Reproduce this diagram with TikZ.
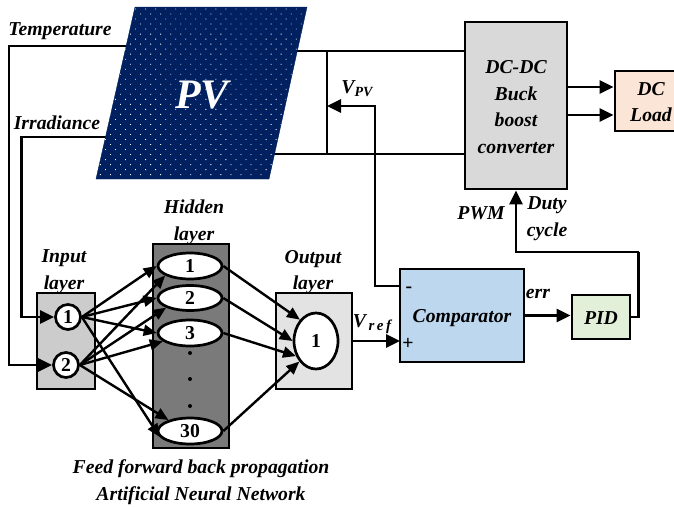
\documentclass[tikz,border=0pt]{standalone}
\usepackage{fontspec}
\setmainfont{Liberation Serif}
\usetikzlibrary{arrows.meta,calc,patterns.meta,shapes.geometric}
\definecolor{panelblue}{HTML}{002060}
\definecolor{convgray}{HTML}{D9D9D9}
\definecolor{loadpeach}{HTML}{FBE5D6}
\definecolor{cmpblue}{HTML}{BDD7EE}
\definecolor{pidgreen}{HTML}{E2F0D9}
\tikzset{
	wire/.style={line width=2.7pt},
	arrowwire/.style={wire, -{Triangle[length=14pt, width=13pt]}},
	netarrow/.style={line width=2.4pt, -{Triangle[length=13pt, width=11pt]}},
	lbl/.style={inner sep=0pt, align=center, font=\fontsize{19.7}{26.7}\selectfont\bfseries\itshape},
	block/.style={draw, line width=2.7pt, inner sep=0pt},
	layerbox/.style={draw, line width=2.7pt, inner sep=0pt},
	neuron/.style={draw, ellipse, fill=white, line width=2.7pt, inner sep=0pt, font=\fontsize{19.7}{22}\selectfont\bfseries},
	netdot/.style={circle, fill=black, inner sep=0pt, minimum size=4pt}
}

\begin{document}
\begin{tikzpicture}[x=1pt, y=-1pt]
		%%%%% START %%%%%
		\clip (0, 0) rectangle (674, 506);
		\fill[white] (0, 0) rectangle (674, 506);
		
		% named points on the panel and the wire corners
		\coordinate (pvtemp) at (127, 46);
		\coordinate (pvirr) at (106, 137);
		\coordinate (pvtop) at (296, 51);
		\coordinate (pvbot) at (274, 154);
		\coordinate (tempcorner) at (9, 46);
		\coordinate (irrcorner) at (21.5, 137);
		\coordinate (tapup) at (327, 51);
		\coordinate (tapdown) at (327, 154);
		\coordinate (tapmid) at (327, 106);
		\coordinate (vpvcorner) at (375, 106);
		\coordinate (cmpminus) at (400, 286);
		\coordinate (cmpplus) at (400, 341);
		\coordinate (pidout) at (640, 317);
		\coordinate (pidup) at (638.5, 252);
		\coordinate (dutycorner) at (516, 252);
		
		% blocks
		\node[block, fill=convgray, minimum width=102, minimum height=167] (conv) at (516, 105.5) {};
		\node[lbl] (convtext) at (516, 107) {DC-DC\\Buck\\boost\\converter};
		\node[block, fill=loadpeach, minimum width=72, minimum height=60] (load) at (651, 101) {};
		\node[lbl] (loadtext) at (651, 102) {DC\\Load};
		\node[block, fill=cmpblue, minimum width=124, minimum height=93] (cmp) at (462, 315.5) {};
		\node[lbl] (cmptext) at (462, 318) {Comparator};
		\node[block, fill=pidgreen, minimum width=58, minimum height=44] (pid) at (601, 317) {};
		\node[lbl] (pidtext) at (601, 318) {PID};
		
		% neural network
		\node[layerbox, fill=black!20, minimum width=58, minimum height=96] (inbox) at (66, 341) {};
		\node[layerbox, fill=black!52, minimum width=76, minimum height=204] (hidbox) at (191, 346) {};
		\node[layerbox, fill=black!11, minimum width=76, minimum height=96] (outbox) at (314, 341) {};
		
		\node[neuron, circle, minimum size=25] (in1) at (68, 317) {1};
		\node[neuron, circle, minimum size=25] (in2) at (66, 365) {2};
		\node[neuron, minimum width=64, minimum height=26] (h1) at (190, 266) {1};
		\node[neuron, minimum width=64, minimum height=25] (h2) at (190, 298) {2};
		\node[neuron, minimum width=64, minimum height=26] (h3) at (190, 333) {3};
		\node[neuron, minimum width=64, minimum height=26] (h30) at (190, 431) {30};
		\node[neuron, minimum width=44, minimum height=56] (o1) at (316, 341) {1};
		\node[netdot] (dot1) at (190, 353) {};
		\node[netdot] (dot2) at (190, 379) {};
		\node[netdot] (dot3) at (190, 406) {};
		
		\draw[netarrow] (in1.east) -- (h1.west);
		\draw[netarrow] (in1.east) -- (h2.west);
		\draw[netarrow] (in1.east) -- (h3.west);
		\draw[netarrow] (in1.east) -- (h30.191);
		\draw[netarrow] (in2.east) -- (h1.201);
		\draw[netarrow] (in2.east) -- (h2.202);
		\draw[netarrow] (in2.east) -- (h3.197);
		\draw[netarrow] (in2.east) -- (h30.153);
		\draw[netarrow] (h1.east) -- (o1.127);
		\draw[netarrow] (h2.east) -- (o1.west);
		\draw[netarrow] (h3.east) -- (o1.217);
		\draw[netarrow] (h30.east) -- (o1.231);
		
		% wires
		\draw[arrowwire] (pvtemp) -- (tempcorner) |- (in2.west);
		\draw[arrowwire] (pvirr) -- (irrcorner) |- (in1.west);
		\draw[wire] (pvtop) -- (conv.west |- pvtop);
		\draw[wire] (pvbot) -- (conv.west |- pvbot);
		\draw[wire] (tapup) -- (tapdown);
		\draw[arrowwire] (cmpminus) -| (vpvcorner) -- (tapmid);
		\draw[arrowwire] (outbox.east) -- (cmpplus);
		\draw[arrowwire] (cmp.east) -- (cmp.east -| pid.west);
		\draw[wire] (pid.east) -- (pidout);
		\draw[wire] (pidout -| pidup) -- (pidup);
		\draw[arrowwire] (pidup) -- (dutycorner) -- (dutycorner |- conv.south);
		\draw[arrowwire] (conv.east |- 0, 87) -- (load.west |- 0, 87);
		\draw[arrowwire] (conv.east |- 0, 115) -- (load.west |- 0, 115);
		
		% panel
		\draw[fill=panelblue, draw=panelblue] (135, 7) -- (307, 7) -- (269, 179) -- (96, 179) -- cycle;
		\fill[pattern={Dots[distance=7.1pt, angle=45, radius=0.6pt]}, pattern color=white] (135, 7) -- (307, 7) -- (269, 179) -- (96, 179) -- cycle;
		\node[lbl, text=white, font=\fontsize{42}{44}\selectfont\bfseries\itshape] (pvtext) at (202, 95) {PV};
		
		% labels
		\node[lbl] (templabel) at (60, 31) {Temperature};
		\node[lbl] (irrlabel) at (57, 123) {Irradiance};
		\node[lbl] (hidlabel) at (194, 222) {Hidden\\layer};
		\node[lbl] (inlabel) at (64, 272) {Input\\layer};
		\node[lbl] (outlabel) at (313, 272) {Output\\layer};
		\node[lbl] (annlabel) at (201, 482.5) {Feed forward back propagation\\Artificial Neural Network};
		\node[lbl] (vpvlabel) at (357, 89) {V\raisebox{-3pt}{\fontsize{14}{14}\selectfont PV}};
		\node[lbl] (vreflabel) at (372, 324) {V\raisebox{-3pt}{\fontsize{15}{15}\selectfont \,r\,e\,f}};
		\node[lbl] (pwmlabel) at (481, 213) {PWM};
		\node[lbl] (dutylabel) at (547, 219) {Duty\\cycle};
		\node[lbl] (errlabel) at (538, 294) {err};
		\node[lbl, font=\fontsize{19.7}{19}\selectfont\bfseries] (minuslabel) at (409, 290) {-};
		\node[lbl, font=\fontsize{19.7}{19}\selectfont\bfseries] (pluslabel) at (408, 344) {+};
		
		%%%%% END %%%%%
	\end{tikzpicture}
\end{document}
